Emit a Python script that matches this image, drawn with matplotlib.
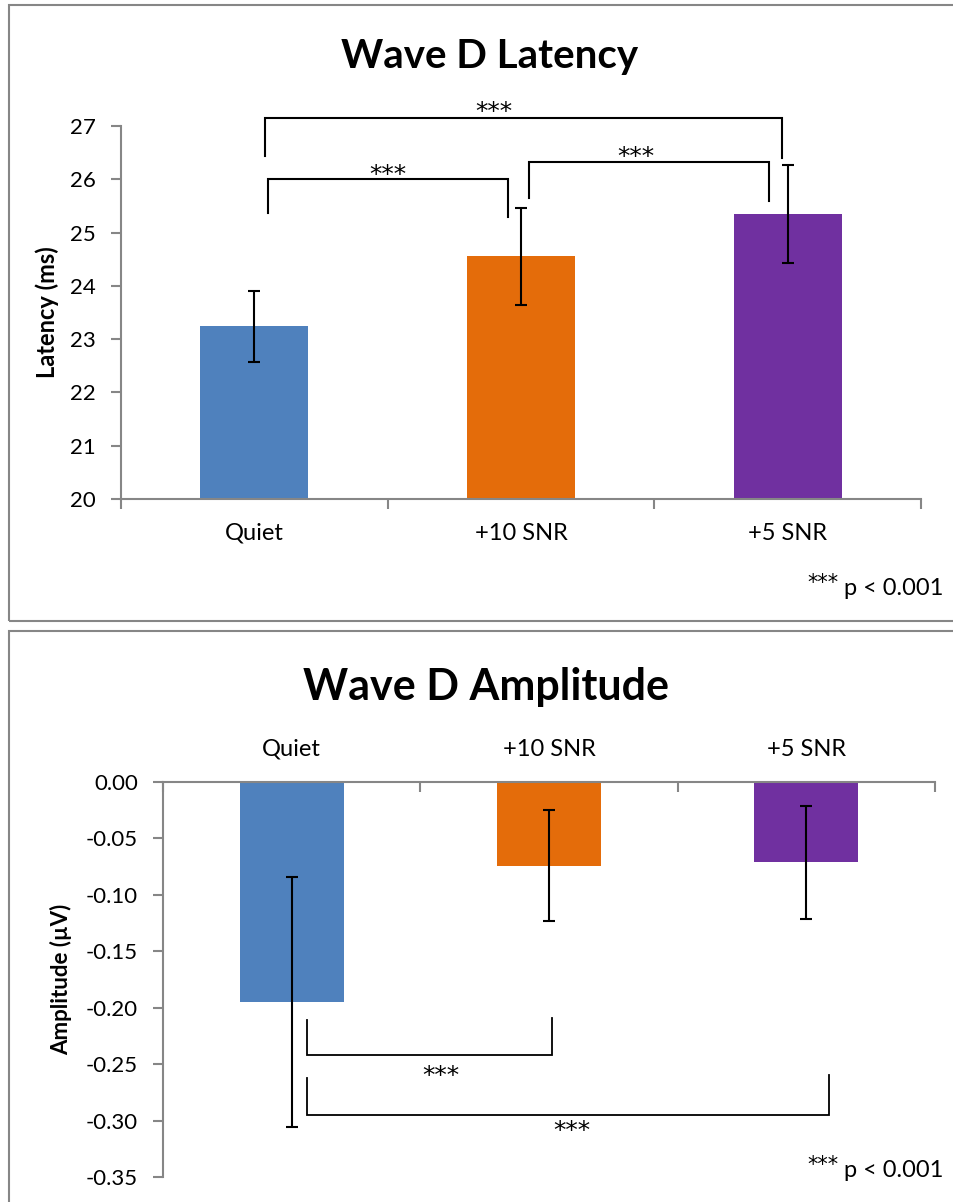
import numpy as np
import matplotlib
matplotlib.use("Agg")
import matplotlib.pyplot as plt
from matplotlib.patches import Rectangle
from matplotlib.ticker import FuncFormatter

plt.rcParams['font.family'] = ['Lato', 'DejaVu Sans']

# data
conditions = ['Quiet', '+10 SNR', '+5 SNR']
bar_colors = ['#4F81BD', '#E46C0A', '#7030A0']
latency_ms = [23.24, 24.56, 25.35]
latency_err = [0.66, 0.91, 0.92]
amplitude_uv = [-0.195, -0.074, -0.071]
amplitude_err = [0.111, 0.049, 0.050]

# significance brackets: (x left, x right, y bar, y end left, y end right)
lat_brackets = [(0.04, 1.98, 27.15, 26.43, 26.40),
                (0.05, 0.95, 26.00, 25.37, 25.30),
                (1.03, 1.93, 26.32, 25.65, 25.60)]
amp_brackets = [(0.06, 1.01, -0.242, -0.211, -0.209),
                (0.06, 2.09, -0.295, -0.262, -0.260)]
# where the *** sit (centre of the stars)
lat_stars = [(0.90, 27.40), (0.50, 26.21), (1.43, 26.55)]
amp_stars = [(0.58, -0.254), (1.09, -0.303)]

W, H = 954, 1202
fig = plt.figure(figsize=(W / 100, H / 100), dpi=100)
grey = '#868686'
star_font = ['DejaVu Sans']

def px_rect(x0, y0, x1, y1):
    # rectangle in pixel coords (top-left origin) -> figure fraction
    return Rectangle((x0 / W, 1 - y1 / H), (x1 - x0) / W, (y1 - y0) / H,
                     transform=fig.transFigure, fill=False, ec=grey, lw=1.5)

def ptext(xp, yp, s, **kw):
    return fig.text(xp / W, 1 - yp / H, s, **kw)

fig.patches.append(px_rect(9, 5, 970, 621))
fig.patches.append(px_rect(9, 631, 970, 1215))

x = np.arange(len(conditions))
bw = 0.405

def bracket(ax, b, lw):
    x0, x1, yb, yl, yr = b
    ax.plot([x0, x0, x1, x1], [yl, yb, yb, yr], color='black', lw=lw,
            clip_on=False, solid_joinstyle='miter')

def stars(ax, xs, ys):
    # baseline sits ~10pt below the centre of the asterisks
    ax.annotate('***', (xs, ys), xytext=(0, -10), textcoords='offset points',
                ha='center', va='baseline', fontsize=18, family=star_font,
                annotation_clip=False)

def style_axis(ax):
    for s in ['left', 'bottom', 'top', 'right']:
        ax.spines[s].set_color(grey)
        ax.spines[s].set_linewidth(1.5)
    ax.tick_params(axis='y', colors=grey, length=7, width=1.5, labelcolor='black',
                   labelsize=16, pad=11)
    ax.set_xticks(np.arange(-0.5, len(conditions), 1.0), minor=True)
    ax.set_xticks(x)
    ax.set_xticklabels(conditions)
    ax.tick_params(axis='x', which='major', length=0, labelsize=17)
    ax.tick_params(axis='x', which='minor', colors=grey, length=7, width=1.5)
    ax.set_xlim(-0.5, 2.5)
    ax.spines['right'].set_visible(False)

def p_note(yp_base):
    ptext(943, yp_base, 'p < 0.001', ha='right', va='baseline', fontsize=17)
    ptext(839, yp_base - 6, '***', ha='right', va='baseline', fontsize=15,
          family=star_font)

# ---- top: latency ----
ax1 = fig.add_axes([121 / W, 1 - 499 / H, 800 / W, 373 / H])
ax1.bar(x, np.array(latency_ms) - 20, bottom=20, width=bw, color=bar_colors)
ax1.errorbar(x, latency_ms, yerr=latency_err, fmt='none', ecolor='black',
             elinewidth=1.5, capsize=4.5, capthick=1.5)
ax1.set_ylim(20, 27)
ax1.set_yticks(range(20, 28))
style_axis(ax1)
ax1.spines['top'].set_visible(False)
ax1.tick_params(axis='x', which='major', pad=17)
ax1.set_ylabel('Latency (ms)', fontsize=17, fontweight='bold')
ax1.yaxis.set_label_coords((59 - 121) / 800, 0.5)
for b in lat_brackets:
    bracket(ax1, b, 1.5)
for xs, ys in lat_stars:
    stars(ax1, xs, ys)
ptext(490, 68, 'Wave D Latency', ha='center', va='baseline',
      fontsize=29, fontweight='bold')
p_note(595)

# ---- bottom: amplitude ----
ax2 = fig.add_axes([163 / W, 1 - 1177 / H, 772 / W, 395 / H])
ax2.bar(x, amplitude_uv, width=bw, color=bar_colors)
ax2.errorbar(x, amplitude_uv, yerr=amplitude_err, fmt='none', ecolor='black',
             elinewidth=1.5, capsize=4.5, capthick=1.5)
ax2.set_ylim(-0.35, 0)
ax2.set_yticks(np.arange(-0.35, 0.001, 0.05))
ax2.yaxis.set_major_formatter(
    FuncFormatter(lambda v, _: ('%.2f' % v).replace('-0.00', '0.00')))
style_axis(ax2)
ax2.xaxis.set_ticks_position('top')
ax2.tick_params(axis='x', which='minor', direction='in', top=True, bottom=False)
ax2.tick_params(axis='x', which='major', pad=16, top=True, bottom=False,
                labeltop=True, labelbottom=False)
ax2.spines['bottom'].set_visible(False)
ax2.set_ylabel('Amplitude (\u00b5V)', fontsize=16, fontweight='bold')
ax2.yaxis.set_label_coords((72 - 163) / 772, 0.5)
for b in amp_brackets:
    bracket(ax2, b, 1.3)
for xs, ys in amp_stars:
    stars(ax2, xs, ys)
ptext(486, 700, 'Wave D Amplitude', ha='center', va='baseline',
      fontsize=31, fontweight='bold')
p_note(1177)

fig.savefig('out.png', dpi=100)
